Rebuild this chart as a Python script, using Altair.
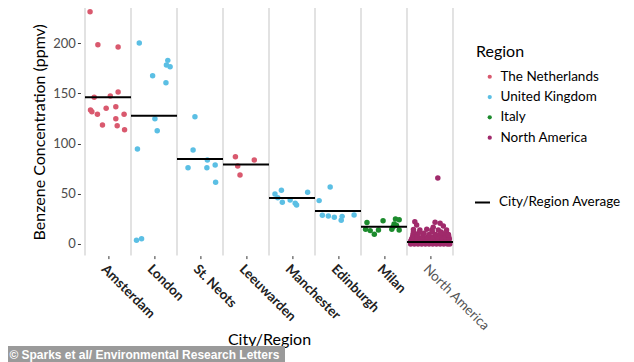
import json
import altair as alt
import pandas as pd

# ---------------- data ----------------
categories = ["Amsterdam", "London", "St. Neots", "Leeuwarden",
              "Manchester", "Edinburgh", "Milan", "North America"]
city_region = ["The Netherlands", "United Kingdom", "United Kingdom", "The Netherlands",
               "United Kingdom", "United Kingdom", "Italy", "North America"]
region_names = ["The Netherlands", "United Kingdom", "Italy", "North America"]
region_colors = ["#d9596e", "#5bbfe4", "#1c8b2d", "#a02a6b"]
city_averages = [146.2, 127.7, 84.8, 79.3, 45.8, 32.8, 17.2, 2.0]
average_label = "City/Region Average"

amsterdam_values = [231.5, 198.6, 196.3, 151.5, 147.5, 146.2, 133.5, 131.8,
                    135.2, 136.8, 129.2, 129.2, 124.9, 118.6, 117.9, 113.9]
amsterdam_jitter = [-0.39, -0.22, 0.22, 0.22, 0.05, -0.30, -0.38, -0.35,
                    -0.04, 0.17, -0.23, 0.35, 0.17, -0.12, 0.20, 0.36]
london_values = [200.3, 183.0, 178.4, 176.7, 167.7, 160.7, 124.9, 112.9, 94.7, 3.7, 5.3]
london_jitter = [-0.32, 0.30, 0.27, 0.35, -0.03, 0.26, 0.02, 0.07, -0.36, -0.38, -0.27]
stneots_values = [126.9, 93.7, 83.7, 76.0, 76.0, 78.7, 61.5]
stneots_jitter = [-0.11, -0.15, 0.16, -0.26, 0.15, 0.33, 0.34]
leeuwarden_values = [87.0, 83.7, 77.7, 68.8]
leeuwarden_jitter = [-0.23, 0.18, -0.18, -0.13]
manchester_values = [49.8, 53.5, 46.1, 41.5, 43.8, 40.5, 38.9, 51.5]
manchester_jitter = [-0.37, -0.23, -0.31, -0.21, -0.04, 0.07, 0.10, 0.34]
edinburgh_values = [56.8, 43.2, 28.6, 27.9, 26.6, 27.5, 23.6, 28.9]
edinburgh_jitter = [-0.17, -0.41, -0.34, -0.21, -0.08, 0.09, 0.07, 0.35]
milan_values = [21.3, 14.6, 13.3, 9.7, 14.0, 23.2, 14.6, 20.0, 24.9, 24.2, 18.6, 14.0, 17.2]
milan_jitter = [-0.37, -0.40, -0.30, -0.21, -0.12, -0.02, 0.17, 0.22, 0.25, 0.33, 0.27, 0.33, 0.20]
northamerica_values = [
    0.0, 0.0, 0.0, 0.0, 0.0, 0.0, 0.0, 0.0, 0.0, 0.0, 0.0, 0.0,
    1.5, 1.5, 1.5, 1.5, 1.5, 1.5, 1.5, 1.5, 1.5, 1.5, 1.5,
    3.0, 3.0, 3.0, 3.0, 3.0, 3.0, 3.0, 3.0, 3.0, 3.0,
    5.0, 5.0, 5.0, 5.0, 5.0, 5.0, 5.0, 5.0, 5.0, 5.0,
    7.0, 7.0, 7.0, 7.0, 7.0, 7.0, 7.0, 7.0, 7.0,
    9.5, 9.5, 9.5, 9.5, 9.5, 9.5, 9.5, 9.5,
    12.0, 11.5, 12.5, 12.0, 11.0,
    22.2, 18.9, 14.5, 14.0, 10.7, 14.6, 14.0, 21.6, 16.6, 14.0, 18.0, 14.0, 11.0, 9.0, 20.6,
    65.8]
northamerica_jitter = [
    -0.42, -0.34, -0.26, -0.18, -0.10, -0.02, 0.06, 0.14, 0.22, 0.30, 0.38, 0.43,
    -0.40, -0.30, -0.20, -0.12, -0.04, 0.04, 0.12, 0.20, 0.28, 0.36, 0.42,
    -0.42, -0.33, -0.24, -0.15, -0.06, 0.03, 0.12, 0.21, 0.30, 0.39,
    -0.40, -0.30, -0.21, -0.10, 0.00, 0.10, 0.18, 0.27, 0.35, 0.42,
    -0.38, -0.27, -0.16, -0.05, 0.06, 0.16, 0.26, 0.34, 0.41,
    -0.37, -0.28, -0.15, -0.02, 0.12, 0.22, 0.33, 0.40,
    -0.36, -0.24, 0.05, 0.24, 0.36,
    -0.33, -0.29, -0.36, -0.22, -0.13, -0.07, 0.04, 0.11, 0.07, 0.18, 0.29, 0.36, 0.25, 0.40, 0.22,
    0.17]

caption = "\u00a9 Sparks et al/ Environmental Research Letters"

all_values = [amsterdam_values, london_values, stneots_values, leeuwarden_values,
              manchester_values, edinburgh_values, milan_values, northamerica_values]
all_jitter = [amsterdam_jitter, london_jitter, stneots_jitter, leeuwarden_jitter,
              manchester_jitter, edinburgh_jitter, milan_jitter, northamerica_jitter]

rows = []
for i, city in enumerate(categories):
    for v, j in zip(all_values[i], all_jitter[i]):
        rows.append({"city": city, "pos": i + 1 + j, "value": v, "region": city_region[i]})
points_df = pd.DataFrame(rows)

avg_df = pd.DataFrame({
    "city": categories,
    "x0": [i + 0.5 for i in range(len(categories))],
    "x1": [i + 1.5 for i in range(len(categories))],
    "avg": city_averages,
    "kind": [average_label] * len(categories),
})
bound_df = pd.DataFrame({"b": [i + 0.5 for i in range(len(categories) + 1)]})

# ---------------- scales / axes ----------------
x_scale = alt.Scale(domain=[0.4, len(categories) + 0.6], nice=False, zero=False)
y_scale = alt.Scale(domain=[-11.6, 235.2], nice=False, zero=False)

x_axis = alt.Axis(
    values=list(range(1, len(categories) + 1)),
    labelExpr=json.dumps(categories) + "[datum.value - 1]",
    grid=False, domain=False, tickSize=3, tickColor="#333333", tickWidth=1,
    labelAngle=45, labelAlign="left", labelBaseline="top", labelPadding=3,
    labelFontSize=13.5,
    labelFontWeight={"condition": {"test": "datum.value == 8", "value": "normal"}, "value": "bold"},
    labelColor={"condition": {"test": "datum.value == 8", "value": "#555555"}, "value": "#222222"},
    labelOverlap=False, labelFlush=False, labelBound=False,
    title="City/Region", titleFontSize=16, titleFontWeight="normal", titleColor="black",
    titlePadding=-1,
)
y_axis = alt.Axis(
    values=[0, 50, 100, 150, 200], grid=False, domain=False,
    tickSize=3, tickColor="#333333", tickWidth=1,
    labelFontSize=13, labelColor="#4d4d4d", labelPadding=2,
    title="Benzene Concentration (ppmv)", titleFontSize=16, titleFontWeight="normal",
    titleColor="black", titlePadding=5,
)

grid = alt.Chart(bound_df).mark_rule(color="#d9d9d9", strokeWidth=1.5).encode(
    x=alt.X("b:Q", scale=x_scale, axis=x_axis),
)

points = alt.Chart(points_df).mark_circle(size=30, opacity=1).encode(
    x=alt.X("pos:Q", scale=x_scale, axis=x_axis),
    y=alt.Y("value:Q", scale=y_scale, axis=y_axis),
    color=alt.Color(
        "region:N",
        scale=alt.Scale(domain=region_names, range=region_colors),
        legend=alt.Legend(
            title="Region", orient="none", legendX=395.6, legendY=36, padding=0,
            titleFontSize=16, titleFontWeight="normal", titleColor="black", titlePadding=10,
            labelFontSize=13.5, labelColor="black", labelOffset=4,
            symbolType="circle", symbolSize=18, symbolOffset=7, symbolOpacity=1,
            symbolStrokeWidth=0, rowPadding=5.3,
        ),
    ),
)

averages = alt.Chart(avg_df).mark_rule(color="black", strokeWidth=2).encode(
    x=alt.X("x0:Q", scale=x_scale, axis=x_axis),
    x2="x1:Q",
    y=alt.Y("avg:Q", scale=y_scale, axis=y_axis),
    strokeDash=alt.StrokeDash(
        "kind:N",
        scale=alt.Scale(domain=[average_label], range=[[1, 0]]),
        legend=alt.Legend(
            title=None, orient="none", legendX=393.6, legendY=186, padding=0,
            labelFontSize=13.5, labelColor="black", labelOffset=8,
            symbolType="stroke", symbolSize=225, symbolStrokeWidth=2,
            symbolStrokeColor="black",
        ),
    ),
)

wm_box = alt.Chart(alt.Data(values=[{"t": caption}])).mark_rect(color="#9a9a9a").encode(
    x=alt.value(-80.4), x2=alt.value(204.6), y=alt.value(338), y2=alt.value(354),
)
wm_text = alt.Chart(alt.Data(values=[{"t": caption}])).mark_text(
    align="left", baseline="middle", color="white", font="Liberation Sans",
    fontWeight="bold", fontSize=12,
).encode(x=alt.value(-71), y=alt.value(347), text="t:N")

chart = alt.layer(grid, points, averages, wm_box, wm_text).properties(
    width=377.2, height=247.6,
    autosize=alt.AutoSizeParams(type="none"),
    padding={"left": 72.4, "top": 0, "right": 168, "bottom": 106.4},
).configure(font="Lato").configure_view(stroke=None)

chart.save("out.html", embed_options={"renderer": "svg", "actions": False})
